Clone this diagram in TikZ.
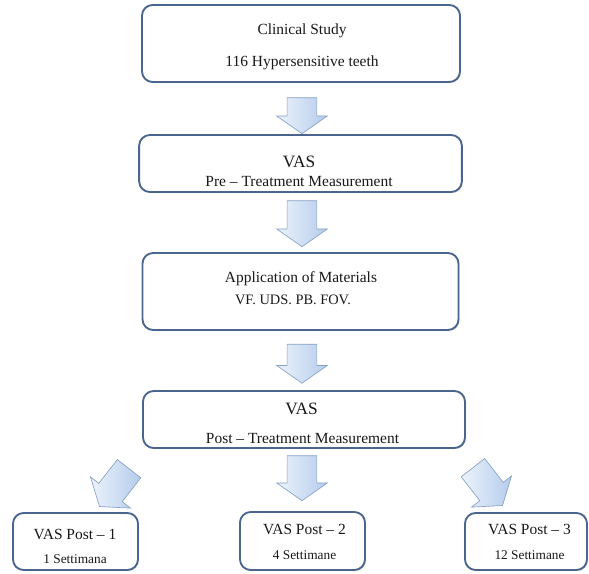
\documentclass[tikz,border=0pt]{standalone}
\usepackage{fontspec}
\setmainfont{Liberation Serif}
\usetikzlibrary{shapes.arrows,shadows}

\definecolor{boxline}{RGB}{74,102,142}
\definecolor{arrline}{RGB}{135,161,198}
\definecolor{arrlight}{RGB}{236,243,252}
\definecolor{arrdark}{RGB}{181,204,235}
\definecolor{ink}{RGB}{25,25,25}

\tikzstyle{stage} = [draw=boxline,line width=1.4pt,rounded corners=8pt,fill=white,
  drop shadow={shadow xshift=0.8pt,shadow yshift=-0.8pt,opacity=0.25},inner sep=0pt]
\tikzstyle{blockarrow} = [single arrow,draw=arrline,line width=0.5pt,
  left color=arrlight,right color=arrdark,inner xsep=0pt,inner ysep=10.9pt,
  single arrow head extend=7.9pt,single arrow tip angle=110]
\tikzstyle{txt} = [inner sep=0pt,anchor=base,text=ink,font=\fontsize{11.6}{14}\selectfont]
\tikzstyle{big} = [txt,font=\fontsize{13}{15}\selectfont]
\tikzstyle{small} = [txt,font=\fontsize{10}{12}\selectfont]

\begin{document}
\begin{tikzpicture}[x=0.75pt,y=-0.75pt]
	\useasboundingbox (0,0) rectangle (589,574);

	% main column
	\node[stage,minimum width=238.5pt,minimum height=57.75pt] (study) at (301,43.5) {};
	\node[stage,minimum width=242pt,minimum height=42.75pt] (pre) at (300.5,163.5) {};
	\node[stage,minimum width=237pt,minimum height=57.75pt] (app) at (300.5,291.5) {};
	\node[stage,minimum width=241.5pt,minimum height=42.75pt] (post) at (304,419.5) {};

	% follow-up boxes
	\node[stage,minimum width=93.75pt,minimum height=42.75pt] (week1) at (75.5,541.5) {};
	\node[stage,minimum width=93.75pt,minimum height=43.5pt] (week4) at (302.5,541) {};
	\node[stage,minimum width=91.5pt,minimum height=42.75pt] (week12) at (526,541.5) {};

	% texts
	\node[txt] (studyA) at (302,35) {Clinical Study};
	\node[txt] (studyB) at (302,67) {116 Hypersensitive teeth};
	\node[big] (preA) at (299,168) {VAS};
	\node[txt] (preB) at (299,187) {Pre -- Treatment Measurement};
	\node[txt] (appA) at (301,282) {Application of Materials};
	\node[small,font=\fontsize{10.8}{13}\selectfont] (appB) at (293,304) {VF. UDS. PB. FOV.};
	\node[big] (postA) at (301.5,414) {VAS};
	\node[txt] (postB) at (302.5,443) {Post -- Treatment Measurement};
	\node[txt] (week1A) at (75,539) {VAS Post -- 1};
	\node[small] (week1B) at (75,563) {1 Settimana};
	\node[txt] (week4A) at (304.5,534) {VAS Post -- 2};
	\node[small] (week4B) at (304.5,559) {4 Settimane};
	\node[txt] (week12A) at (529.5,534) {VAS Post -- 3};
	\node[small] (week12B) at (529.5,559) {12 Settimane};

	% block arrows
	\node[blockarrow,rotate=-90,minimum height=27pt] (a1) at (302,110.5) {};
	\node[blockarrow,rotate=-90,minimum height=34.5pt] (a2) at (302,218.5) {};
	\node[blockarrow,rotate=-90,minimum height=29.25pt] (a3) at (302,358.5) {};
	\node[blockarrow,rotate=-90,minimum height=33.75pt] (a4) at (302,473) {};
	\node[blockarrow,rotate=-128,minimum height=36pt] (a5) at (117.5,483.5) {};
	\node[blockarrow,rotate=-52,minimum height=36pt] (a6) at (484.5,482.5) {};
\end{tikzpicture}
\end{document}
